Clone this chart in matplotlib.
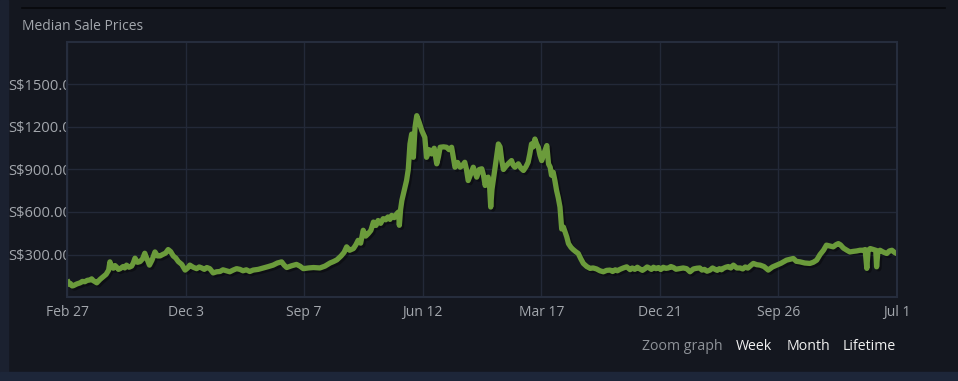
import matplotlib
matplotlib.use("Agg")
import matplotlib.pyplot as plt
import matplotlib.patheffects as pe
from matplotlib.transforms import Bbox, TransformedBbox
from matplotlib.patches import Rectangle

# days since Feb 27 (first day shown) and median price in S$
days = [3, 6, 8, 12, 15, 19, 23, 27, 31, 36, 42, 48, 54, 58, 62, 66, 70, 78, 85, 92, 98, 101, 105, 109, 113, 117, 121, 125, 132, 136, 140, 146, 152,
        156, 160, 166, 172, 178, 183, 188, 194, 200, 207, 213, 219, 225, 232, 238, 244, 250, 256, 262, 270, 278,
        284, 289, 297, 305, 311, 317, 323, 329, 336, 344, 352, 360, 367, 375, 383, 391, 399, 407, 414, 422, 430, 438, 450, 462, 474, 485, 495,
        505, 511, 517, 528, 540, 548, 556, 568, 580, 595, 607, 619, 627, 635, 645, 652, 658, 665, 674, 680, 685, 691, 697, 703, 709,
        715, 721, 727, 732, 738, 744, 750, 755, 760, 764, 770, 776, 780, 782, 785, 788, 794, 799, 803, 807, 811, 815, 819, 823, 829, 835,
        842, 846, 852, 858, 864, 870, 874, 878, 886, 893, 899, 905, 913, 919, 925, 931, 936, 940, 944, 950,
        956, 960, 964, 970, 976, 980, 984, 988, 991, 994, 997, 1000, 1003, 1009, 1015, 1019, 1023, 1027, 1031, 1038,
        1046, 1050, 1054, 1062, 1068, 1074, 1080, 1085, 1089, 1093, 1097, 1101, 1105, 1109, 1113, 1117, 1123, 1129, 1133, 1137,
        1140, 1144, 1148, 1152, 1156, 1160, 1164, 1168, 1172, 1176, 1180, 1186, 1191, 1197, 1203, 1209, 1215, 1223, 1231, 1238,
        1246, 1254, 1262, 1270, 1278, 1284, 1290, 1295, 1301, 1309, 1317, 1325, 1330, 1336, 1342, 1348, 1354, 1360, 1365, 1370, 1375, 1380, 1386, 1392, 1397, 1403, 1409, 1415, 1421, 1427, 1433, 1440,
        1450, 1458, 1466, 1474, 1482, 1489, 1494, 1500, 1506, 1513, 1519, 1525, 1530, 1535, 1540, 1544, 1550, 1556, 1562, 1568, 1576, 1584, 1590, 1596, 1602, 1608, 1615, 1623, 1631,
        1640, 1650, 1660, 1670, 1680, 1693, 1700, 1709, 1716, 1725, 1736, 1748, 1756, 1764, 1772, 1780, 1787, 1795, 1803, 1810,
        1815, 1820, 1827, 1835, 1842, 1850, 1858, 1866, 1874, 1878, 1882, 1885, 1890, 1898, 1903, 1905, 1908, 1913, 1920, 1929,
        1935, 1941, 1947, 1952]
prices = [105, 88, 95, 78, 80, 86, 92, 96, 100, 110, 108, 118, 120, 128, 115, 108, 100, 125, 143, 160, 190, 248, 215, 203, 222, 210, 195, 200, 215, 205, 225, 210, 218,
          240, 274, 245, 250, 270, 309, 270, 225, 260, 318, 290, 290, 300, 310, 335, 320, 290, 275, 250, 230, 190,
          205, 225, 210, 200, 212, 205, 195, 208, 200, 170, 178, 180, 192, 185, 178, 190, 200, 195, 185, 192, 180, 190, 195, 205, 215, 225, 240,
          248, 225, 208, 220, 230, 218, 200, 205, 208, 205, 218, 240, 250, 262, 290, 315, 354, 330, 342, 370, 400, 380, 471, 430, 448,
          470, 529, 505, 540, 520, 553, 545, 565, 548, 576, 560, 588, 600, 506, 620, 682, 760, 822, 900, 1080, 1150, 986, 1200, 1280, 1230, 1174,
          1127, 986, 1040, 1010, 1050, 940, 990, 1057, 1060, 1057, 1040, 1057, 916, 950, 916, 930, 951, 900, 822, 870,
          916, 880, 846, 900, 905, 860, 787, 830, 846, 800, 635, 760, 822, 950, 1080, 1060, 963, 900, 916, 940,
          963, 930, 916, 940, 910, 893, 920, 951, 1010, 1080, 1060, 1115, 1080, 1057, 1000, 963, 1020, 1069, 940, 916,
          860, 881, 822, 752, 700, 635, 480, 494, 460, 424, 377, 350, 335, 320, 307, 270, 237, 215, 202, 205,
          198, 185, 178, 188, 190, 180, 192, 185, 195, 205, 213, 193, 205, 195, 210, 198, 188, 200, 212, 205, 195, 210, 200, 208, 194, 210, 202, 205, 215, 208, 196, 200,
          205, 200, 178, 198, 203, 205, 190, 195, 182, 190, 205, 195, 188, 200, 192, 202, 210, 215, 205, 225, 205, 205, 198, 212, 204, 220, 237, 228, 225,
          215, 190, 212, 225, 238, 260, 265, 272, 252, 248, 240, 237, 245, 260, 300, 330, 366, 360, 354, 370,
          377, 368, 345, 330, 318, 322, 325, 330, 330, 335, 202, 330, 342, 335, 330, 213, 320, 330, 318, 307,
          325, 330, 315, 307]

tick_days = [0, 279, 558, 837, 1116, 1395, 1674, 1953]
tick_labels = ["Feb 27", "Dec 3", "Sep 7", "Jun 12", "Mar 17", "Dec 21", "Sep 26", "Jul 1"]
price_ticks = [300, 600, 900, 1200, 1500]

bg = "#14171f"
grid_c = "#232938"
text_c = "#a3a7ad"
plt.rcParams["font.family"] = ["Open Sans", "DejaVu Sans"]

fig = plt.figure(figsize=(9.58, 3.81), dpi=100, facecolor=bg)
# lighter strip on the left and at the bottom of the panel
fig.patches.append(Rectangle((0, 0), 8 / 958, 1, transform=fig.transFigure, color="#1b2130", zorder=-5))
fig.patches.append(Rectangle((0, 0), 1, 9 / 381, transform=fig.transFigure, color="#1d2639", zorder=-5))
fig.add_artist(plt.Line2D([22 / 958, 945 / 958], [1 - 8 / 381, 1 - 8 / 381], transform=fig.transFigure,
                          color="#07080b", lw=1.2))

ax = fig.add_axes([67 / 958, 1 - 297 / 381, 830 / 958, 255 / 381])
ax.set_facecolor(bg)
line, = ax.plot(days, prices, color="#6b9b3b", lw=3.8, solid_joinstyle="round")
line.set_path_effects([pe.SimpleLineShadow(offset=(1.5, -1.5), shadow_color="black", alpha=0.35),
                       pe.Normal()])

ax.set_xlim(0, 1953)
ax.set_ylim(0, 1800)
ax.set_xticks(tick_days)
ax.set_xticklabels(tick_labels)
ax.set_yticks(price_ticks)
ax.set_yticklabels(["S$%.2f" % p for p in price_ticks])
ax.grid(True, color=grid_c, lw=1)
ax.set_axisbelow(True)
for s in ax.spines.values():
    s.set_color("#262d3d")
    s.set_linewidth(1.5)
ax.tick_params(axis="x", length=0, colors=text_c, labelsize=10, pad=6)
ax.tick_params(axis="y", length=0, colors=text_c, labelsize=10.6, pad=42.5)

# y labels start at the left edge and are cut off by the plot area
clip = TransformedBbox(Bbox([[0, 0], [67 / 958, 1]]), fig.transFigure)
for t in ax.get_yticklabels():
    t.set_horizontalalignment("left")
    t.set_clip_box(clip)
    t.set_clip_on(True)

fig.text(22 / 958, 1 - 27 / 381, "Median Sale Prices", color=text_c, fontsize=10, va="center")
fig.text(723 / 958, 1 - 347 / 381, "Zoom graph", color="#8e9298", fontsize=10.2, va="center", ha="right")
fig.text(736 / 958, 1 - 347 / 381, "Week", color="#f0f0f0", fontsize=10.2, va="center")
fig.text(787 / 958, 1 - 347 / 381, "Month", color="#f0f0f0", fontsize=10.2, va="center")
fig.text(843 / 958, 1 - 347 / 381, "Lifetime", color="#f0f0f0", fontsize=10.2, va="center")

fig.savefig("out.png", dpi=100, facecolor=bg)
